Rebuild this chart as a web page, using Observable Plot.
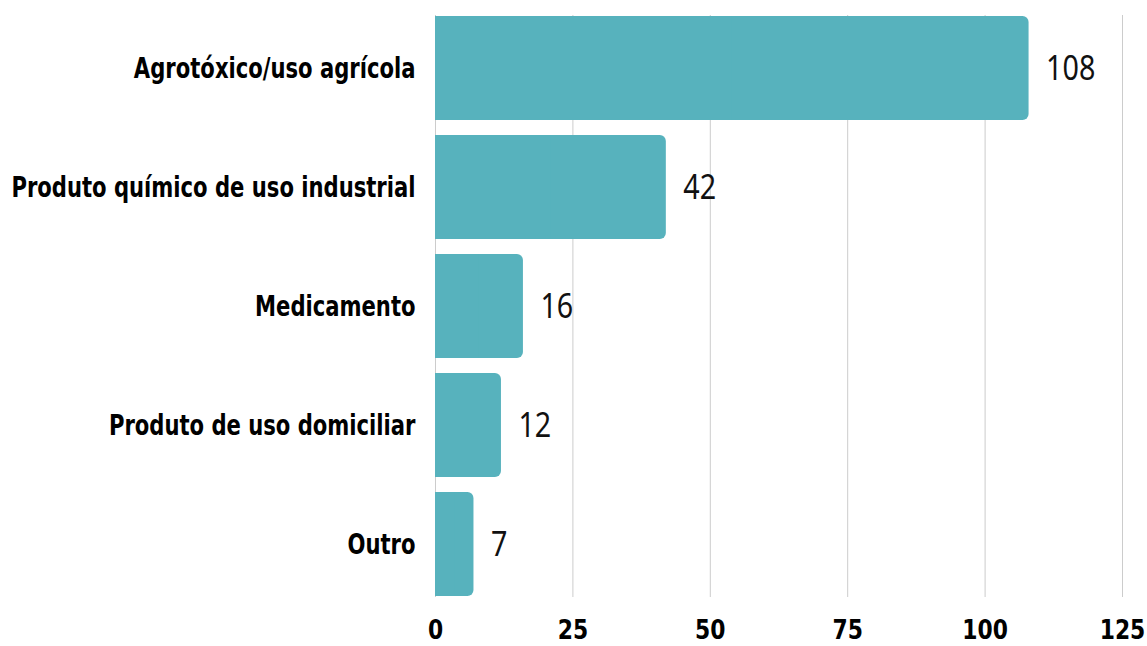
<!DOCTYPE html>
<html>
<head>
<meta charset="utf-8">
<script src="https://cdn.jsdelivr.net/npm/d3@7"></script>
<script src="https://cdn.jsdelivr.net/npm/@observablehq/plot@0.6"></script>
<style>
  html, body { margin: 0; padding: 0; background: #fff; }
  #chart svg { display: block; }
</style>
</head>
<body>
<div id="chart"></div>
<script>
const categories = [
  "Agrotóxico/uso agrícola",
  "Produto químico de uso industrial",
  "Medicamento",
  "Produto de uso domiciliar",
  "Outro"
];
const values = [108, 42, 16, 12, 7];
const xTicks = [0, 25, 50, 75, 100, 125];

const data = categories.map((c, i) => ({category: c, value: values[i]}));
const barColor = "#57b2bd";
const labelFont = "'DejaVu Sans Condensed', 'DejaVu Sans', sans-serif";
const valueFont = "'Noto Sans', 'Open Sans', sans-serif";

const plot = Plot.plot({
  width: 1147,
  height: 646,
  marginLeft: 435,
  marginRight: 25,
  marginTop: 15,
  marginBottom: 49,
  style: {fontFamily: labelFont, background: "#fff"},
  x: {domain: [0, 125], ticks: xTicks, label: null},
  y: {domain: categories, paddingInner: 0.13, paddingOuter: 0, label: null},
  marks: [
    Plot.ruleX(xTicks, {stroke: "#cccccc", strokeWidth: 1}),
    Plot.barX(data, {x: "value", y: "category", fill: barColor, rx: 6, inset: 0}),
    Plot.barX(data, {x1: 0, x2: d => d.value / 2, y: "category", fill: barColor, inset: 0}),
    Plot.text(data, {
      x: "value", y: "category", text: d => String(d.value),
      textAnchor: "start", dx: 17, fontSize: 35, fill: "#111",
      fontFamily: valueFont, className: "vlabel"
    }),
    Plot.axisY({tickSize: 0, tickPadding: 20, fontSize: 29, fontWeight: "bold", fill: "#000",
      stroke: "#000", strokeWidth: 0.9, label: null, className: "ylab"}),
    Plot.axisX({ticks: xTicks, tickSize: 0, tickPadding: 22, fontSize: 27, fontWeight: "bold", fill: "#000",
      stroke: "#000", strokeWidth: 0.9, label: null, className: "xlab"})
  ]
});

// horizontally condense text around its anchor point (x only)
function condense(selector, s) {
  d3.select(plot).selectAll(selector).each(function() {
    const xv = parseFloat(this.getAttribute("x"));
    const x = isFinite(xv) ? xv : 0;
    const t = this.getAttribute("transform") || "";
    this.setAttribute("transform", `${t} translate(${x},0) scale(${s},1) translate(${-x},0)`);
  });
}
condense(".vlabel text", 0.82);
condense(".ylab text", 0.81);
condense(".xlab text", 0.9);

document.getElementById("chart").appendChild(plot);
</script>
</body>
</html>
